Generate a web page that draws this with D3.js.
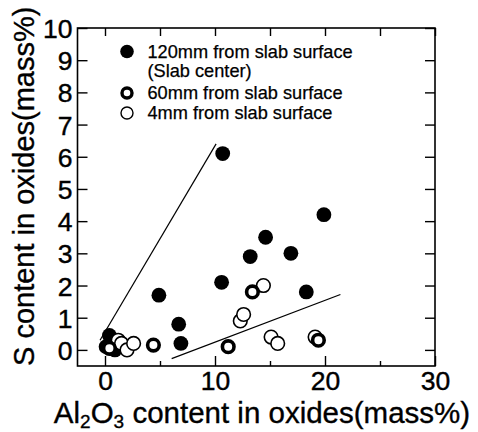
<!DOCTYPE html>
<html>
<head>
<meta charset="utf-8">
<script src="https://cdn.jsdelivr.net/npm/d3@7"></script>
<style>
  body { margin: 0; background: #fff; }
  text { font-family: "Liberation Sans", Arial, sans-serif; fill: #000; }
</style>
</head>
<body>
<div id="chart"></div>
<script>
// values (Al2O3 %, S %)
const filledX = [0.1, 0.4, 0.9, 4.9, 6.7, 6.9, 10.6, 10.7, 13.2, 14.6, 16.9, 18.3, 19.9];
const filledY = [0.1, 0.45, 0.0, 1.7, 0.8, 0.2, 2.1, 6.1, 2.9, 3.5, 3.0, 1.8, 4.2];
const openX = [1.2, 1.5, 2.0, 2.6, 12.3, 12.6, 14.4, 15.1, 15.7, 19.1];
const openY = [0.3, 0.2, 0.0, 0.2, 0.9, 1.1, 2.0, 0.4, 0.2, 0.4];
const ringX = [0.4, 4.4, 11.2, 13.4, 19.4];
const ringY = [0.05, 0.15, 0.1, 1.8, 0.3];
const line1 = [[-0.45, 0.3], [10.1, 6.4]];
const line2 = [[6.06, -0.27], [21.4, 1.72]];
const xTicks = [0, 10, 20, 30];
const xMinor = [5, 15, 25];
const yTicks = [0, 1, 2, 3, 4, 5, 6, 7, 8, 9, 10];
const legendLabels = ["120mm from slab surface", "(Slab center)", "60mm from slab surface", "4mm from slab surface"];

const width = 478, height = 432;
const svg = d3.select("#chart").append("svg")
  .attr("width", width).attr("height", height);

const x = d3.scaleLinear().domain([-2.5, 30]).range([77.5, 435]);
const y = d3.scaleLinear().domain([-0.5, 10]).range([366, 28]);

// frame
svg.append("rect")
  .attr("x", x(-2.5)).attr("y", y(10))
  .attr("width", x(30) - x(-2.5)).attr("height", y(-0.5) - y(10))
  .attr("fill", "none").attr("stroke", "#000").attr("stroke-width", 1.6);

// axes with inward ticks
const axBottom = svg.append("g").attr("transform", `translate(0,${y(-0.5)})`)
  .call(d3.axisBottom(x).tickValues(xTicks).tickSize(-10).tickPadding(5).tickFormat(d3.format("d")));
const axBottomMinor = svg.append("g").attr("transform", `translate(0,${y(-0.5)})`)
  .call(d3.axisBottom(x).tickValues(xMinor).tickSize(-5).tickFormat(""));
const axTop = svg.append("g").attr("transform", `translate(0,${y(10)})`)
  .call(d3.axisTop(x).tickValues(xTicks.concat(xMinor)).tickSize(-8).tickFormat(""));
const axLeft = svg.append("g").attr("transform", `translate(${x(-2.5)},0)`)
  .call(d3.axisLeft(y).tickValues(yTicks).tickSize(-10).tickPadding(5).tickFormat(d3.format("d")));
const axRight = svg.append("g").attr("transform", `translate(${x(30)},0)`)
  .call(d3.axisRight(y).tickValues(yTicks).tickSize(-10).tickFormat(""));

[axBottom, axBottomMinor, axTop, axLeft, axRight].forEach(g => {
  g.select(".domain").remove();
  g.selectAll(".tick line").attr("stroke", "#000").attr("stroke-width", 1.4);
  g.selectAll(".tick text").attr("font-size", 26.5).attr("font-family", "Liberation Sans, Arial, sans-serif")
    .attr("fill", "#000").attr("stroke", "#000").attr("stroke-width", 0.4);
});
axLeft.selectAll(".tick text").attr("dy", "0.36em");

// trend lines
const lineGen = d3.line().x(d => x(d[0])).y(d => y(d[1]));
[line1, line2].forEach(l => {
  svg.append("path").attr("d", lineGen(l))
    .attr("fill", "none").attr("stroke", "#000").attr("stroke-width", 1.2);
});

// points
const r = 7.4;
svg.append("g").selectAll("circle")
  .data(d3.zip(filledX, filledY)).join("circle")
  .attr("cx", d => x(d[0])).attr("cy", d => y(d[1])).attr("r", r)
  .attr("fill", "#000");
svg.append("g").selectAll("circle")
  .data(d3.zip(openX, openY)).join("circle")
  .attr("cx", d => x(d[0])).attr("cy", d => y(d[1])).attr("r", r - 0.6)
  .attr("fill", "#fff").attr("stroke", "#000").attr("stroke-width", 1.6);
svg.append("g").selectAll("circle")
  .data(d3.zip(ringX, ringY)).join("circle")
  .attr("cx", d => x(d[0])).attr("cy", d => y(d[1])).attr("r", r - 1.6)
  .attr("fill", "#fff").attr("stroke", "#000").attr("stroke-width", 3.6);

// legend
const legend = svg.append("g");
legend.append("circle").attr("cx", 127).attr("cy", 51.5).attr("r", 6.8).attr("fill", "#000");
legend.append("circle").attr("cx", 127).attr("cy", 93).attr("r", 5).attr("fill", "#fff")
  .attr("stroke", "#000").attr("stroke-width", 3.4);
legend.append("circle").attr("cx", 127).attr("cy", 113).attr("r", 6).attr("fill", "#fff")
  .attr("stroke", "#000").attr("stroke-width", 1.4);
const legendY = [57.5, 76.5, 99, 118.5];
legend.selectAll("text").data(legendLabels).join("text")
  .attr("x", 147.5).attr("y", (d, i) => legendY[i])
  .attr("font-size", 18.2)
  .attr("stroke", "#000").attr("stroke-width", 0.25)
  .text(d => d);

// axis titles
const xt = svg.append("text").attr("x", 262).attr("y", 423)
  .attr("text-anchor", "middle").attr("font-size", 29.5)
  .attr("stroke", "#000").attr("stroke-width", 0.35);
xt.append("tspan").text("Al");
xt.append("tspan").attr("font-size", 19).attr("dy", 4.5).text("2");
xt.append("tspan").attr("dy", -4.5).text("O");
xt.append("tspan").attr("font-size", 19).attr("dy", 4.5).text("3");
xt.append("tspan").attr("dy", -4.5).text(" content in oxides(mass%)");

svg.append("text")
  .attr("transform", "translate(33.5,366) rotate(-90)")
  .attr("text-anchor", "start").attr("font-size", 29)
  .attr("stroke", "#000").attr("stroke-width", 0.35)
  .text("S content in oxides(mass%)");
</script>
</body>
</html>
